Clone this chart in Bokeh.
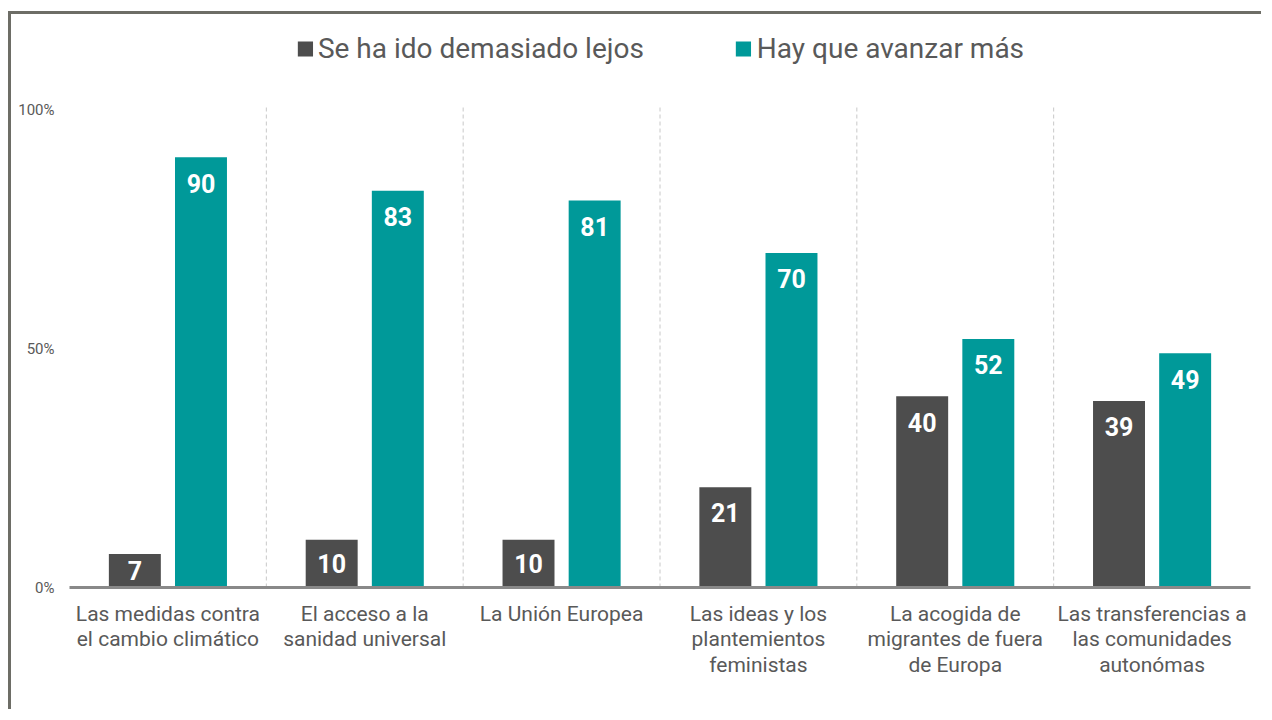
from bokeh.plotting import figure
from bokeh.models import ColumnDataSource, FixedTicker, Legend, LegendItem, Range1d
from bokeh.layouts import column
from bokeh.core.properties import value
from bokeh.embed import file_html
from bokeh.resources import INLINE

categories = [
    "Las medidas contra\nel cambio climático",
    "El acceso a la\nsanidad universal",
    "La Unión Europea",
    "Las ideas y los\nplantemientos\nfeministas",
    "La acogida de\nmigrantes de fuera\nde Europa",
    "Las transferencias a\nlas comunidades\nautonómas",
]
series_names = ["Se ha ido demasiado lejos", "Hay que avanzar más"]
ido_lejos = [7, 10, 10, 21, 40, 39]
avanzar_mas = [90, 83, 81, 70, 52, 49]
y_ticks = [0, 50, 100]
y_tick_labels = ["0%", "50%", "100%"]
colors = ["#4d4d4d", "#009999"]

FONT = "Roboto"
GRAY = "#595959"

n = len(categories)
centers = [i + 0.5 for i in range(n)]
off = 0.168
bw = 0.264

p = figure(width=1250, height=695, output_backend="svg", toolbar_location=None,
           x_range=Range1d(0, n), y_range=Range1d(0, 117.8),
           min_border_left=58, min_border_right=11, min_border_top=10, min_border_bottom=122)
p.outline_line_color = None
p.xgrid.visible = False
p.ygrid.visible = False

# dashed separators
sep_x = [float(i) for i in range(1, n)]
p.segment(x0=sep_x, y0=[0] * len(sep_x), x1=sep_x, y1=[101] * len(sep_x),
          line_color="#c8c8c8", line_width=1, line_dash="4 3")

renderers = []
for k, vals in enumerate([ido_lejos, avanzar_mas]):
    xs = [c + (-off if k == 0 else off) for c in centers]
    label_y = [max(v - 5.4, v / 2) for v in vals]
    src = ColumnDataSource(dict(x=xs, top=vals, ly=label_y, txt=[str(v) for v in vals]))
    r = p.vbar(x="x", top="top", width=bw, bottom=0, source=src,
               fill_color=colors[k], line_color=None)
    renderers.append(r)
    p.text(x="x", y="ly", text="txt", source=src, text_align="center",
           text_baseline="middle", text_color="white", text_font_style="bold",
           text_font_size="25px", text_font=value(FONT))

# axes
p.xaxis.ticker = FixedTicker(ticks=centers)
p.xaxis.major_label_overrides = {c: lab for c, lab in zip(centers, categories)}
p.xaxis.axis_line_color = "#898989"
p.xaxis.axis_line_width = 3
p.xaxis.major_tick_line_color = None
p.xaxis.minor_tick_line_color = None
p.xaxis.major_label_text_font = FONT
p.xaxis.major_label_text_font_size = "21px"
p.xaxis.major_label_text_color = GRAY
p.xaxis.major_label_text_line_height = 1.07
p.xaxis.major_label_standoff = 8

p.yaxis.ticker = FixedTicker(ticks=y_ticks)
p.yaxis.major_label_overrides = {t: lab for t, lab in zip(y_ticks, y_tick_labels)}
p.yaxis.axis_line_color = None
p.yaxis.major_tick_line_color = None
p.yaxis.minor_tick_line_color = None
p.yaxis.major_label_text_font = FONT
p.yaxis.major_label_text_font_size = "15px"
p.yaxis.major_label_text_color = GRAY
p.yaxis.major_label_standoff = 9

legend = Legend(items=[LegendItem(label=series_names[i], renderers=[renderers[i]]) for i in range(2)],
                orientation="horizontal", location="top_center",
                border_line_color=None, background_fill_alpha=0,
                glyph_width=19, glyph_height=19, label_standoff=4, spacing=90,
                padding=10, margin=8,
                label_text_font=FONT, label_text_font_size="28px", label_text_color=GRAY)
p.add_layout(legend)

layout = column(p, margin=(11, 0, 0, 8),
                styles={"border-top": "3px solid #6d6d66", "border-left": "3px solid #6d6d66"})

open("out.html", "w").write(file_html(layout, INLINE))
